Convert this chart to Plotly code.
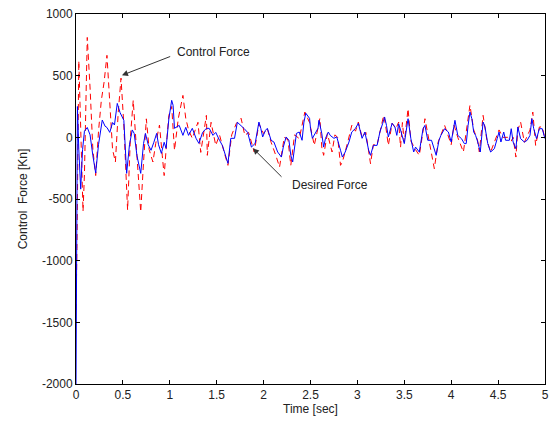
import plotly.graph_objects as go

# Desired force (blue, solid)
t_desired = [0, 0.015, 0.03, 0.05, 0.07, 0.09, 0.12, 0.15, 0.18, 0.21, 0.24, 0.28, 0.31, 0.33, 0.36, 0.39,
             0.41, 0.44, 0.47, 0.51, 0.54, 0.57, 0.6, 0.62, 0.65, 0.69, 0.72, 0.74, 0.77, 0.8, 0.83, 0.86,
             0.88, 0.91, 0.94, 0.96, 0.99, 1.02, 1.035, 1.05, 1.1, 1.14, 1.17, 1.2, 1.24, 1.28, 1.31, 1.35,
             1.39, 1.42, 1.46, 1.49, 1.53, 1.56, 1.6, 1.62, 1.65, 1.69, 1.72, 1.76, 1.79, 1.83, 1.85, 1.87,
             1.91, 1.95, 1.97, 1.99, 2.02, 2.04, 2.08, 2.11, 2.15, 2.19, 2.21, 2.24, 2.27, 2.29, 2.31, 2.35,
             2.38, 2.41, 2.43, 2.45, 2.49, 2.5, 2.52, 2.56, 2.58, 2.59, 2.62, 2.64, 2.66, 2.69, 2.71, 2.75,
             2.78, 2.82, 2.84, 2.87, 2.91, 2.94, 2.98, 3.01, 3.03, 3.05, 3.08, 3.12, 3.14, 3.17, 3.21, 3.24,
             3.27, 3.29, 3.31, 3.33, 3.37, 3.4, 3.42, 3.44, 3.46, 3.48, 3.5, 3.54, 3.57, 3.6, 3.62, 3.66,
             3.7, 3.72, 3.75, 3.79, 3.82, 3.84, 3.87, 3.89, 3.93, 3.97, 4.0, 4.02, 4.04, 4.07, 4.11, 4.14,
             4.16, 4.18, 4.2, 4.22, 4.24, 4.26, 4.28, 4.31, 4.34, 4.36, 4.39, 4.42, 4.46, 4.49, 4.51, 4.53,
             4.56, 4.58, 4.62, 4.64, 4.66, 4.69, 4.71, 4.74, 4.78, 4.81, 4.84, 4.86, 4.88, 4.91, 4.94, 4.97, 5.0]
f_desired = [-2000, 250, -100, -420, -100, 50, 80, 20, -150, -290, -60, 140, 90, 80, 40, 120,
             100, 275, 200, 138, -292, -60, 60, 32, -150, -292, -50, 32, -60, -105, -40, 32,
             -60, -130, -40, -89, 150, 300, 260, 73, 97, 16, 81, 16, 73, -8, -49, 40,
             73, 73, 16, 40, -24, -65, -162, -211, -8, -8, 122, 97, 73, 40, -20, -79,
             -49, 124, 73, 3, 57, 73, -24, -38, -119, -160, -79, 3, -24, -146, -200, 32,
             43, -24, 124, 195, 154, 73, -8, 43, 73, 138, 32, -79, -8, 43, 16, -8,
             3, -105, -160, -119, -38, 43, 73, 114, 43, -8, 43, -105, -146, -65, -65, 43,
             114, 165, 97, 3, 114, 84, 16, 110, 60, 10, -51, 151, -11, -119, -79, -119,
             70, 97, -24, -24, -92, -146, -24, 16, 70, 43, -38, 70, 138, 16, -11, -51,
             -51, 97, 205, 151, 43, 16, -30, -119, 124, 84, -51, -119, -92, -11, 43, -38,
             43, -24, -24, 70, -38, -92, 84, -11, -38, -24, 16, 151, 70, -11, 70, 70, -11]

# Control force (red, dashed)
t_control = [0, 0.01, 0.03, 0.05, 0.075, 0.09, 0.12, 0.15, 0.18, 0.21, 0.24, 0.27, 0.3, 0.33, 0.36, 0.39,
             0.42, 0.45, 0.48, 0.51, 0.55, 0.58, 0.61, 0.64, 0.69, 0.72, 0.75, 0.78, 0.82, 0.85, 0.89, 0.92,
             0.94, 0.97, 0.99, 1.02, 1.05, 1.09, 1.14, 1.17, 1.2, 1.24, 1.3, 1.33, 1.39, 1.4, 1.44, 1.49,
             1.53, 1.58, 1.62, 1.66, 1.71, 1.76, 1.8, 1.84, 1.87, 1.9, 1.95, 2.0, 2.04, 2.08, 2.13, 2.17,
             2.22, 2.26, 2.29, 2.33, 2.38, 2.44, 2.49, 2.54, 2.57, 2.6, 2.62, 2.64, 2.68, 2.73, 2.76, 2.79,
             2.82, 2.84, 2.9, 2.94, 2.98, 3.01, 3.05, 3.09, 3.14, 3.17, 3.21, 3.24, 3.28, 3.3, 3.33, 3.37,
             3.41, 3.44, 3.46, 3.48, 3.5, 3.54, 3.57, 3.62, 3.66, 3.72, 3.77, 3.82, 3.86, 3.93, 4.0, 4.03,
             4.07, 4.13, 4.2, 4.24, 4.28, 4.3, 4.34, 4.38, 4.42, 4.48, 4.51, 4.55, 4.6, 4.64, 4.66, 4.69,
             4.71, 4.74, 4.78, 4.84, 4.87, 4.9, 4.94, 4.97, 5.0]
f_control = [-1400, -900, 620, 100, -600, -300, 810, 400, -100, -310, 50, 300, 450, 665, 300, -100,
             -200, 200, 480, 100, -590, 0, 300, -50, -605, -200, 150, -100, -200, -50, 100, -150,
             -310, 0, 178, 250, -105, 150, 340, 154, 60, -8, 122, -122, 178, -146, 122, -65,
             20, -122, -227, 20, 114, 154, 16, 40, -40, -119, 110, 30, 70, -40, -146, -241,
             0, -20, -227, 20, -10, 205, 120, -65, 40, 154, -79, -146, 30, -119, 20, 0,
             -227, -200, -30, 97, 50, 124, 0, 40, -214, -60, -60, 40, 178, 100, -65, 114,
             70, 124, -79, 120, -40, 232, -30, -100, -146, 151, -40, -254, -40, 97, -60, 100,
             0, -119, 260, 60, -20, -119, 178, -20, -119, 0, 60, 0, 0, -30, 0, -160,
             60, 124, -40, 60, 205, -65, 84, 84, -11]

# tick labels (MATLAB style, plain hyphen minus)
y_ticks = [-2000, -1500, -1000, -500, 0, 500, 1000]
y_tick_labels = ["-2000", "-1500", "-1000", "-500", "0", "500", "1000"]
x_ticks = [0, 0.5, 1, 1.5, 2, 2.5, 3, 3.5, 4, 4.5, 5]
x_tick_labels = ["0", "0.5", "1", "1.5", "2", "2.5", "3", "3.5", "4", "4.5", "5"]

fig = go.Figure()
fig.add_trace(go.Scatter(x=t_control, y=f_control, mode="lines",
                         line=dict(color="#ff0000", width=1, dash="6px,4px")))
fig.add_trace(go.Scatter(x=t_desired, y=f_desired, mode="lines",
                         line=dict(color="#0000ff", width=1)))

fig.add_annotation(x=0.49, y=503, ax=1.02, ay=660, axref="x", ayref="y",
                   text="", showarrow=True, arrowhead=2, arrowsize=1.2, arrowwidth=1, arrowcolor="#333333")
fig.add_annotation(x=1.055, y=689, text="Control Force", showarrow=False, xanchor="left",
                   font=dict(size=12, color="#222222"))
fig.add_annotation(x=1.887, y=-89, ax=2.207, ay=-332, axref="x", ayref="y",
                   text="", showarrow=True, arrowhead=2, arrowsize=1.2, arrowwidth=1, arrowcolor="#333333")
fig.add_annotation(x=2.28, y=-389, text="Desired Force", showarrow=False, xanchor="left",
                   font=dict(size=12, color="#222222"))

axis_style = dict(showgrid=False, zeroline=False, showline=True, linecolor="black", linewidth=1,
                  mirror="allticks", ticks="inside", ticklen=4, tickcolor="black", automargin=False,
                  tickfont=dict(size=12, color="#222222"))
fig.update_xaxes(range=[0, 5], tickvals=x_ticks, ticktext=x_tick_labels,
                 title=dict(text="Time [sec]", font=dict(size=12, color="#222222"), standoff=2), **axis_style)
fig.update_yaxes(range=[-2000, 1000], tickvals=y_ticks, ticktext=y_tick_labels,
                 title=dict(text="Control\u00a0 Force [Kn]", font=dict(size=12, color="#222222"), standoff=11),
                 **axis_style)

fig.update_layout(width=555, height=426, showlegend=False, plot_bgcolor="white", paper_bgcolor="white",
                  font=dict(family="Liberation Sans, Arial, sans-serif"),
                  margin=dict(l=76, r=10, t=14, b=42))

# page body margin off so the figure sits at the window's top-left corner
fig.write_html("out.html", config={"displayModeBar": False},
               post_script="document.body.style.margin='0';document.body.style.overflow='hidden';")
